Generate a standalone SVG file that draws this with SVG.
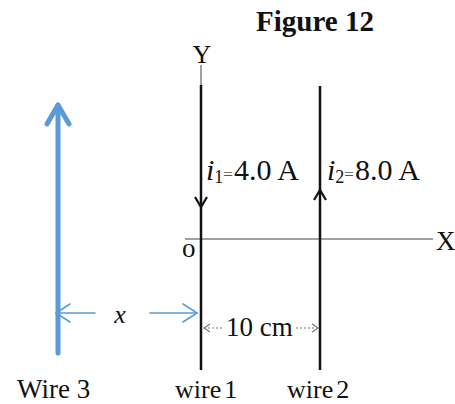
<svg xmlns="http://www.w3.org/2000/svg" width="455" height="404" viewBox="0 0 455 404">
<style>
text{font-family:"Liberation Serif","Times New Roman",serif;fill:#111}
.wire{stroke:#111;stroke-width:2.5;fill:none}
.head{stroke:#111;stroke-width:2.2;fill:none;stroke-linejoin:miter}
.axis{stroke:#444;stroke-width:1}
.blue{stroke:#5b9bd5;fill:none;stroke-linecap:round;stroke-linejoin:round}
.dim{stroke:#777;stroke-width:1.2;fill:none}
</style>
<rect width="455" height="404" fill="#fff"/>
<text x="315" y="31" font-size="29" font-weight="bold" text-anchor="middle">Figure 12</text>
<g id="axes">
<line class="axis" x1="201" y1="65" x2="201" y2="86" stroke="#999"/>
<line class="axis" x1="185" y1="239" x2="433" y2="239"/>
<text x="202" y="63" font-size="26" text-anchor="middle">Y</text>
<text x="436" y="250" font-size="27">X</text>
<text x="182" y="257" font-size="27">o</text>
</g>
<g id="wire1">
<line class="wire" x1="201" y1="85" x2="201" y2="370"/>
<polyline class="head" points="195,197 201,207 207,197"/>
<text x="206" y="180" font-size="30"><tspan font-style="italic">i</tspan><tspan font-size="18" dy="3">1</tspan><tspan font-size="17" dy="-3" fill="#555">=</tspan><tspan dx="1">4.0 A</tspan></text>
<text x="175" y="398" font-size="26">wire<tspan dx="3">1</tspan></text>
</g>
<g id="wire2">
<line class="wire" x1="320" y1="86" x2="320" y2="370"/>
<polyline class="head" points="314,200 320,190 326,200"/>
<text x="327" y="180" font-size="30"><tspan font-style="italic">i</tspan><tspan font-size="18" dy="3">2</tspan><tspan font-size="17" dy="-3" fill="#555">=</tspan><tspan dx="1">8.0 A</tspan></text>
<text x="287" y="398" font-size="26">wire<tspan dx="3">2</tspan></text>
</g>
<g id="wire3">
<line class="blue" x1="58" y1="105" x2="58" y2="353" stroke-width="5" stroke-linecap="butt"/>
<polyline class="blue" points="47,124 58,105 69,124" stroke-width="5"/>
<text x="17" y="398" font-size="27">Wire 3</text>
</g>
<g id="connectors">
<line class="blue" x1="56" y1="313" x2="95" y2="313" stroke-width="1.5"/>
<polyline class="blue" points="70,304 56,313 70,322" stroke-width="1.5"/>
<line class="blue" x1="150" y1="313" x2="197" y2="313" stroke-width="1.5"/>
<polyline class="blue" points="183,304 197,313 183,322" stroke-width="1.5"/>
<text x="120" y="323" font-size="26" font-style="italic" text-anchor="middle">x</text>
<line class="dim" x1="204" y1="328" x2="224" y2="328" stroke-dasharray="2 2"/>
<polyline class="dim" points="210,324 204,328 210,332"/>
<line class="dim" x1="296" y1="328" x2="318" y2="328" stroke-dasharray="2 2"/>
<polyline class="dim" points="312,324 318,328 312,332"/>
<text x="226" y="336" font-size="27">10 cm</text>
</g>
</svg>
